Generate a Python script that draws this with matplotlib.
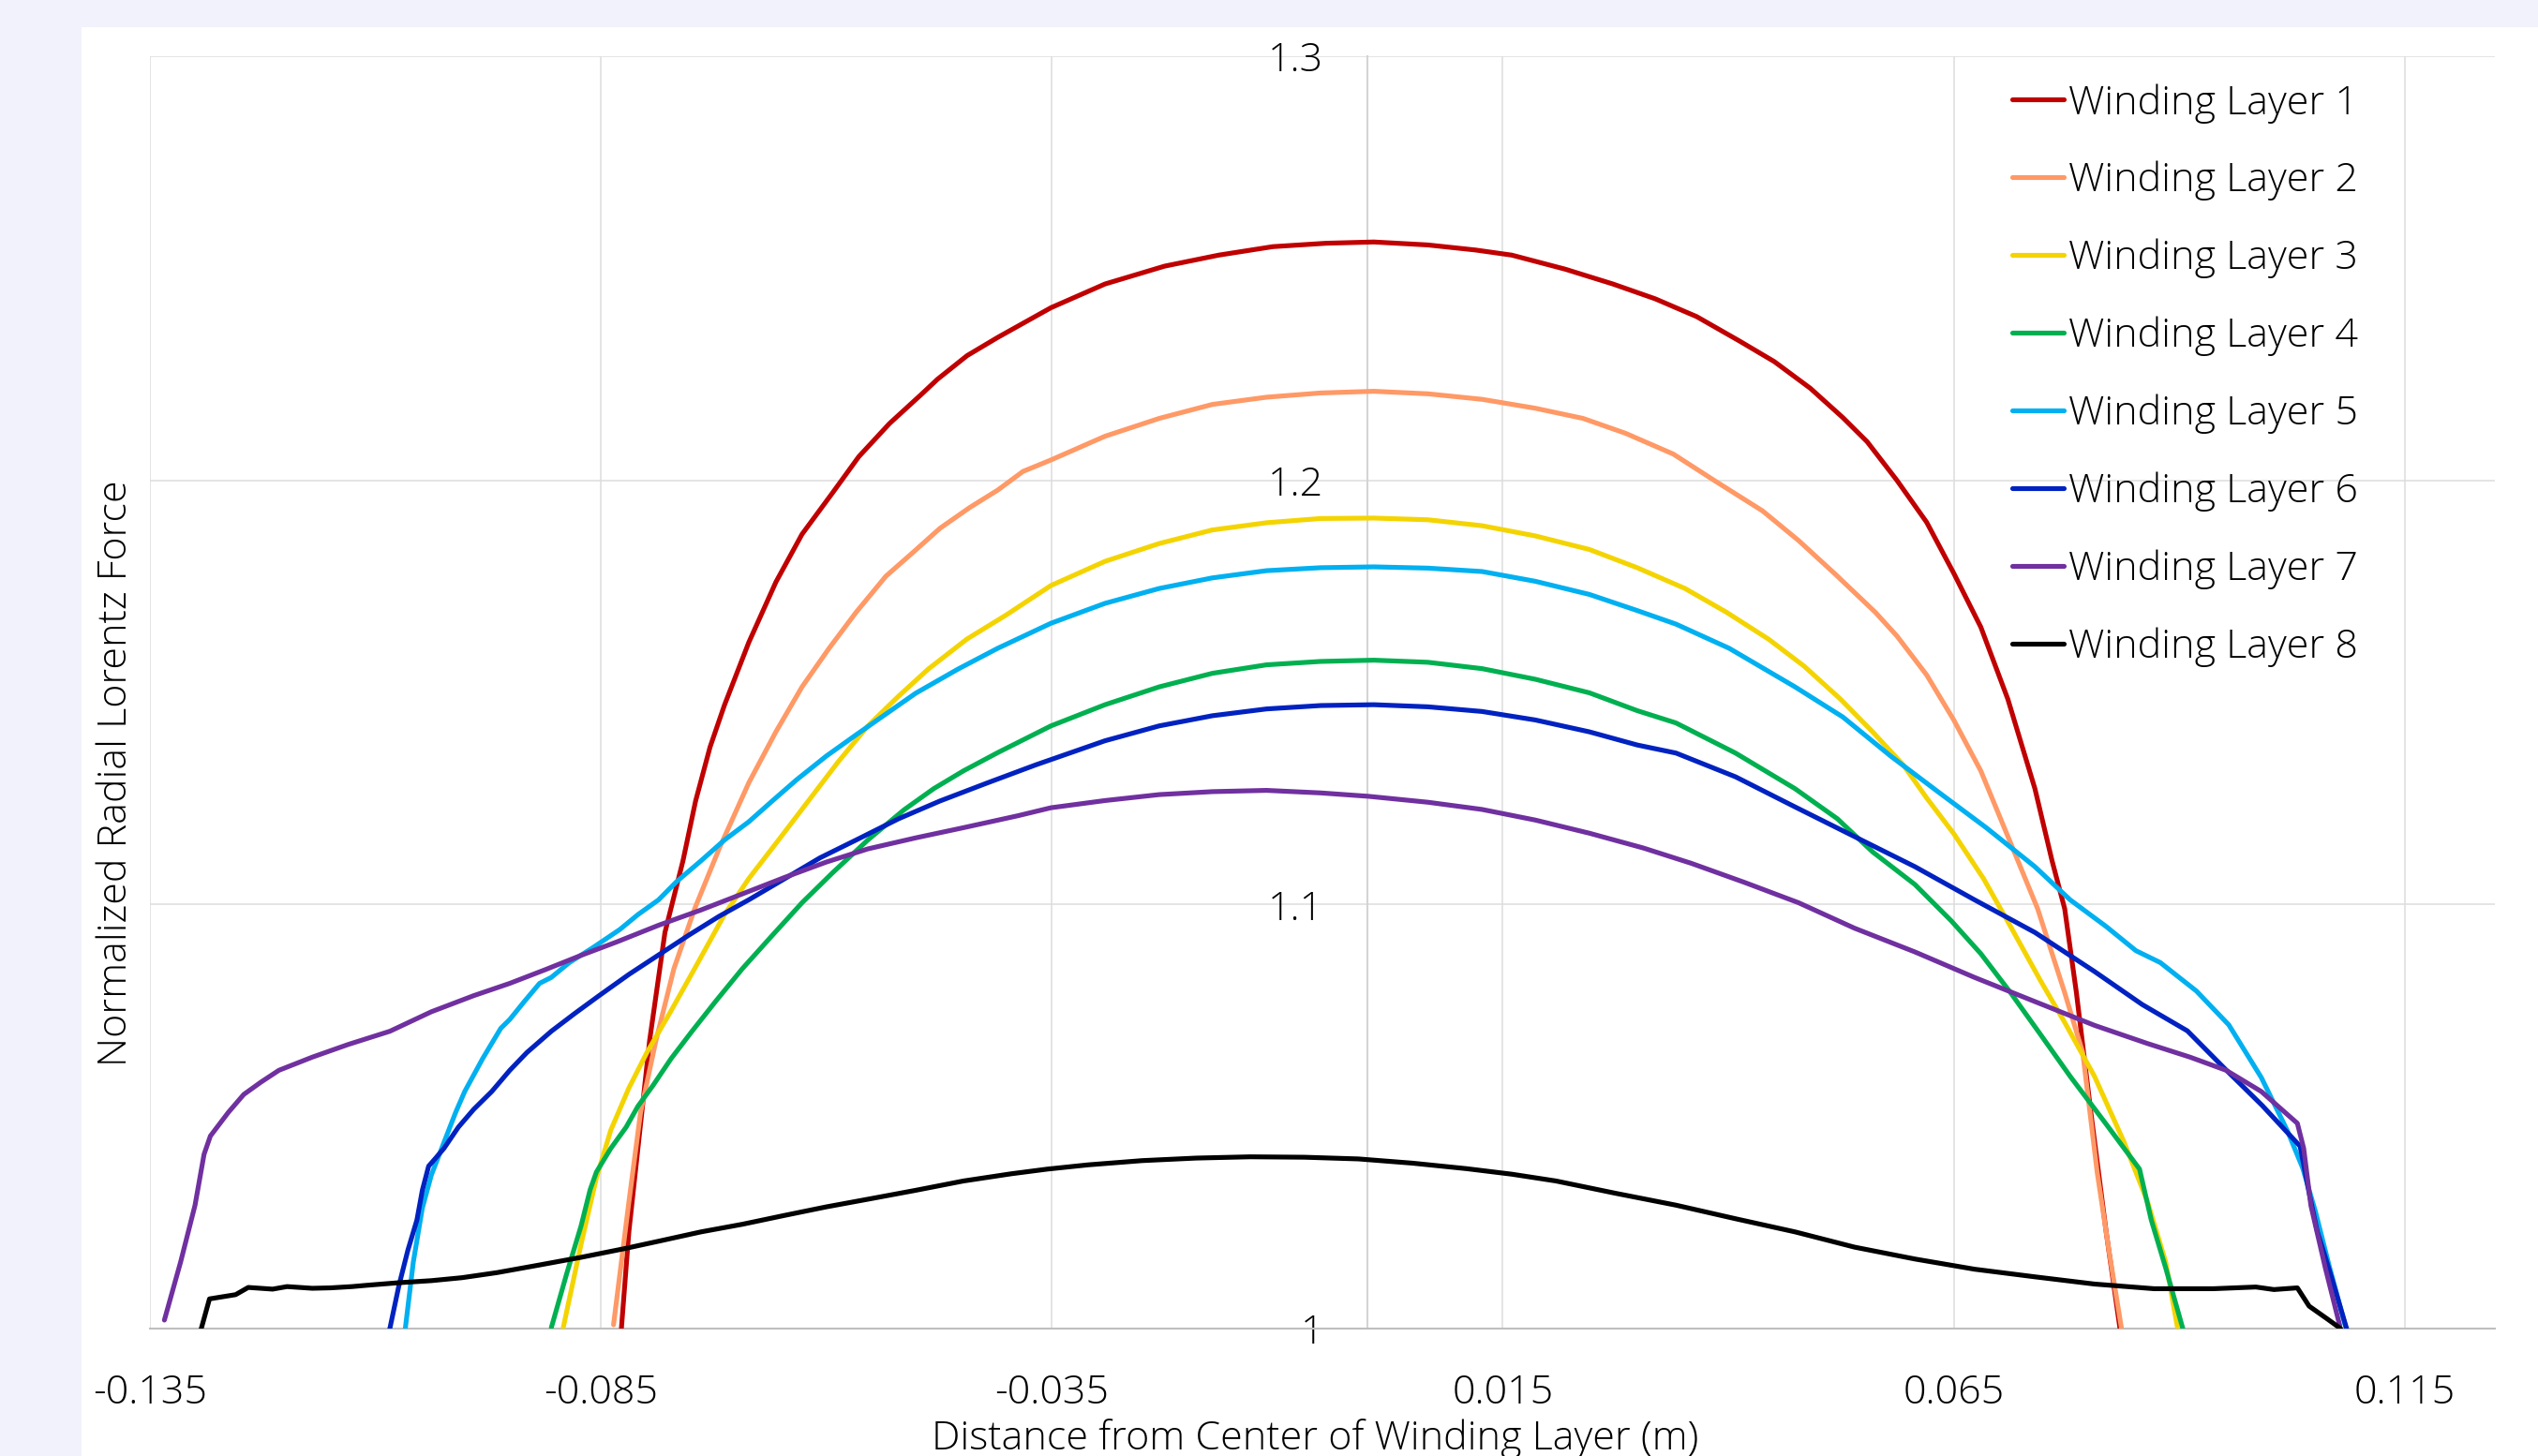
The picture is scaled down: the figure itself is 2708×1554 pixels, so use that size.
import numpy as np
import matplotlib
matplotlib.use("Agg")
import matplotlib.pyplot as plt
from matplotlib import font_manager as fm
from matplotlib.patches import Rectangle

# Data (x in m, y normalized force)

L1_X = [-0.0828, -0.0819, -0.0796, -0.0779, -0.0759, -0.0745, -0.0729, -0.0713, -0.0686, -0.0656,
        -0.0627, -0.0593, -0.0564, -0.0530, -0.0494, -0.0477, -0.0444, -0.0410, -0.0351, -0.0291,
        -0.0225, -0.0165, -0.0105, -0.0046, 0.0007, 0.0067, 0.0120, 0.0160, 0.0219, 0.0272,
        0.0319, 0.0365, 0.0412, 0.0451, 0.0491, 0.0527, 0.0554, 0.0587, 0.0620, 0.0650,
        0.0680, 0.0710, 0.0740, 0.0759, 0.0773, 0.0786, 0.0802, 0.0819, 0.0835]
L1_Y = [0.998, 1.0228, 1.0679, 1.0934, 1.1103, 1.1244, 1.1371, 1.1470, 1.1618, 1.1760,
        1.1873, 1.1971, 1.2056, 1.2134, 1.2204, 1.2238, 1.2294, 1.2337, 1.2407, 1.2463,
        1.2505, 1.2531, 1.2551, 1.2559, 1.2562, 1.2555, 1.2543, 1.2531, 1.2498, 1.2463,
        1.2428, 1.2386, 1.2329, 1.2280, 1.2217, 1.2148, 1.2091, 1.2000, 1.1901, 1.1781,
        1.1654, 1.1484, 1.1273, 1.1103, 1.0990, 1.0792, 1.0510, 1.0228, 0.999]

L2_X = [-0.0836, -0.0819, -0.0806, -0.0789, -0.0769, -0.0746, -0.0719, -0.0686, -0.0656, -0.0627,
        -0.0597, -0.0567, -0.0534, -0.0504, -0.0474, -0.0441, -0.0410, -0.0382, -0.0351, -0.0291,
        -0.0231, -0.0172, -0.0112, -0.0052, 0.0007, 0.0067, 0.0127, 0.0186, 0.0239, 0.0286,
        0.0339, 0.0385, 0.0438, 0.0478, 0.0518, 0.0563, 0.0587, 0.0620, 0.0650, 0.0680,
        0.0713, 0.0743, 0.0773, 0.0793, 0.0809, 0.0822, 0.0836]
L2_Y = [1.0009, 1.0298, 1.0510, 1.0679, 1.0849, 1.0990, 1.1131, 1.1287, 1.1407, 1.1513,
        1.1604, 1.1689, 1.1774, 1.1830, 1.1887, 1.1936, 1.1977, 1.2021, 1.2048, 1.2104,
        1.2146, 1.2179, 1.2196, 1.2206, 1.2210, 1.2204, 1.2191, 1.2170, 1.2146, 1.2111,
        1.2062, 1.1999, 1.1928, 1.1858, 1.1780, 1.1689, 1.1633, 1.1541, 1.1435, 1.1315,
        1.1145, 1.0990, 1.0792, 1.0651, 1.0369, 1.0185, 1.0]

L3_X = [-0.0894, -0.0872, -0.0855, -0.0839, -0.0819, -0.0799, -0.0772, -0.0746, -0.0713, -0.0686,
        -0.0653, -0.0620, -0.0587, -0.0554, -0.0520, -0.0487, -0.0444, -0.0401, -0.0351, -0.0291,
        -0.0231, -0.0172, -0.0112, -0.0052, 0.0007, 0.0067, 0.0127, 0.0186, 0.0246, 0.0299,
        0.0352, 0.0398, 0.0445, 0.0484, 0.0524, 0.0560, 0.0594, 0.0620, 0.0650, 0.0683,
        0.0713, 0.0746, 0.0773, 0.0806, 0.0839, 0.0865, 0.0885, 0.0900]
L3_Y = [0.998, 1.0199, 1.0355, 1.0468, 1.0567, 1.0651, 1.0750, 1.0849, 1.0976, 1.1061,
        1.1152, 1.1244, 1.1336, 1.1421, 1.1491, 1.1555, 1.1626, 1.1682, 1.1752, 1.1809,
        1.1851, 1.1883, 1.1900, 1.1910, 1.1911, 1.1907, 1.1893, 1.1869, 1.1837, 1.1794,
        1.1745, 1.1689, 1.1625, 1.1562, 1.1485, 1.1407, 1.1329, 1.1251, 1.1167, 1.1061,
        1.0948, 1.0821, 1.0722, 1.0595, 1.0439, 1.0298, 1.0157, 0.998]

L4_X = [-0.0905, -0.0888, -0.0872, -0.0862, -0.0855, -0.0839, -0.0822, -0.0809, -0.0792, -0.0772,
        -0.0749, -0.0723, -0.0693, -0.0660, -0.0627, -0.0593, -0.0554, -0.0514, -0.0481, -0.0448,
        -0.0410, -0.0351, -0.0291, -0.0231, -0.0172, -0.0112, -0.0052, 0.0007, 0.0067, 0.0127,
        0.0186, 0.0246, 0.0299, 0.0342, 0.0408, 0.0474, 0.0521, 0.0560, 0.0607, 0.0647,
        0.0680, 0.0713, 0.0746, 0.0779, 0.0819, 0.0856, 0.0869, 0.0885, 0.0904]
L4_Y = [1.0002, 1.0129, 1.0242, 1.0327, 1.0369, 1.0425, 1.0475, 1.0524, 1.0574, 1.0637,
        1.0701, 1.0771, 1.0849, 1.0927, 1.1004, 1.1075, 1.1152, 1.1223, 1.1273, 1.1315,
        1.1358, 1.1421, 1.1471, 1.1513, 1.1545, 1.1565, 1.1573, 1.1576, 1.1571, 1.1556,
        1.1531, 1.1499, 1.1457, 1.1428, 1.1357, 1.1273, 1.1202, 1.1124, 1.1047, 1.0962,
        1.0884, 1.0792, 1.0694, 1.0595, 1.0482, 1.0376, 1.0256, 1.0143, 1.0]

L5_X = [-0.1068, -0.1058, -0.1048, -0.1038, -0.1024, -0.1011, -0.1001, -0.0981, -0.0961, -0.0951,
        -0.0935, -0.0918, -0.0905, -0.0885, -0.0859, -0.0829, -0.0809, -0.0786, -0.0766, -0.0739,
        -0.0713, -0.0686, -0.0660, -0.0633, -0.0600, -0.0567, -0.0534, -0.0501, -0.0454, -0.0410,
        -0.0351, -0.0291, -0.0231, -0.0172, -0.0112, -0.0052, 0.0007, 0.0067, 0.0127, 0.0186,
        0.0246, 0.0299, 0.0342, 0.0401, 0.0474, 0.0527, 0.0580, 0.0633, 0.0686, 0.0740,
        0.0779, 0.0819, 0.0852, 0.0879, 0.0919, 0.0955, 0.0991, 0.1020, 0.1037, 0.1051,
        0.1066, 0.1085]
L5_Y = [0.998, 1.0157, 1.0284, 1.0362, 1.0439, 1.0510, 1.0559, 1.0637, 1.0708, 1.0729,
        1.0771, 1.0814, 1.0828, 1.0863, 1.0898, 1.0941, 1.0976, 1.1011, 1.1054, 1.1103,
        1.1152, 1.1195, 1.1244, 1.1294, 1.1350, 1.1400, 1.1449, 1.1498, 1.1555, 1.1604,
        1.1663, 1.1710, 1.1745, 1.1770, 1.1787, 1.1794, 1.1796, 1.1793, 1.1785, 1.1762,
        1.1731, 1.1693, 1.1661, 1.1604, 1.1513, 1.1442, 1.1350, 1.1265, 1.1181, 1.1089,
        1.1011, 1.0948, 1.0891, 1.0863, 1.0796, 1.0716, 1.0592, 1.0466, 1.0378, 1.0276,
        1.0150, 1.0]

L6_X = [-0.1086, -0.1074, -0.1064, -0.1054, -0.1048, -0.1041, -0.1034, -0.1024, -0.1008, -0.0991,
        -0.0971, -0.0951, -0.0932, -0.0905, -0.0879, -0.0852, -0.0819, -0.0786, -0.0753, -0.0719,
        -0.0686, -0.0646, -0.0607, -0.0567, -0.0520, -0.0474, -0.0421, -0.0368, -0.0291, -0.0231,
        -0.0172, -0.0112, -0.0052, 0.0007, 0.0067, 0.0127, 0.0186, 0.0246, 0.0299, 0.0342,
        0.0408, 0.0474, 0.0540, 0.0607, 0.0673, 0.0740, 0.0806, 0.0859, 0.0909, 0.0950,
        0.0992, 0.1034, 0.1044, 0.1053, 0.1069, 0.1087]
L6_Y = [0.998, 1.0101, 1.0185, 1.0256, 1.0326, 1.0383, 1.0400, 1.0425, 1.0475, 1.0517,
        1.0559, 1.0609, 1.0651, 1.0701, 1.0743, 1.0785, 1.0835, 1.0881, 1.0927, 1.0972,
        1.1011, 1.1061, 1.1110, 1.1152, 1.1202, 1.1244, 1.1287, 1.1329, 1.1386, 1.1421,
        1.1445, 1.1461, 1.1469, 1.1471, 1.1466, 1.1455, 1.1435, 1.1407, 1.1376, 1.1357,
        1.1301, 1.1230, 1.1160, 1.1089, 1.1011, 1.0934, 1.0842, 1.0764, 1.0702, 1.0614,
        1.0526, 1.0430, 1.0320, 1.0230, 1.0120, 0.999]

L7_X = [-0.1334, -0.1316, -0.1300, -0.1290, -0.1283, -0.1263, -0.1246, -0.1227, -0.1207, -0.1170,
        -0.1130, -0.1084, -0.1038, -0.0991, -0.0951, -0.0912, -0.0872, -0.0832, -0.0786, -0.0739,
        -0.0693, -0.0646, -0.0600, -0.0554, -0.0501, -0.0448, -0.0388, -0.0351, -0.0291, -0.0231,
        -0.0172, -0.0112, -0.0052, 0.0001, 0.0067, 0.0127, 0.0186, 0.0246, 0.0306, 0.0359,
        0.0418, 0.0478, 0.0540, 0.0607, 0.0673, 0.0740, 0.0806, 0.0865, 0.0912, 0.0952,
        0.0991, 0.1031, 0.1038, 0.1046, 0.1062, 0.1078]
L7_Y = [1.0020, 1.0157, 1.0291, 1.0411, 1.0454, 1.0510, 1.0552, 1.0581, 1.0609, 1.0640,
        1.0670, 1.0701, 1.0747, 1.0785, 1.0814, 1.0846, 1.0880, 1.0912, 1.0951, 1.0987,
        1.1025, 1.1064, 1.1100, 1.1131, 1.1157, 1.1181, 1.1209, 1.1228, 1.1245, 1.1259,
        1.1266, 1.1269, 1.1263, 1.1255, 1.1241, 1.1224, 1.1199, 1.1168, 1.1133, 1.1097,
        1.1052, 1.1004, 1.0944, 1.0888, 1.0828, 1.0771, 1.0715, 1.0672, 1.0640, 1.0609,
        1.0559, 1.0484, 1.0425, 1.0290, 1.0143, 1.0007]

L8_X = [-0.1297, -0.1284, -0.1255, -0.1241, -0.1214, -0.1198, -0.1170, -0.1150, -0.1126, -0.1110,
        -0.1075, -0.1038, -0.1004, -0.0965, -0.0918, -0.0872, -0.0825, -0.0786, -0.0739, -0.0693,
        -0.0646, -0.0600, -0.0554, -0.0501, -0.0448, -0.0395, -0.0355, -0.0310, -0.0250, -0.0190,
        -0.0130, -0.0070, -0.0010, 0.0050, 0.0110, 0.0160, 0.0209, 0.0275, 0.0342, 0.0408,
        0.0474, 0.0540, 0.0607, 0.0673, 0.0740, 0.0806, 0.0872, 0.0938, 0.0985, 0.1005,
        0.1031, 0.1044, 0.1064, 0.1079]
L8_Y = [0.997, 1.0070, 1.0080, 1.0097, 1.0093, 1.0099, 1.0095, 1.0096, 1.0099, 1.0102,
        1.0108, 1.0113, 1.0120, 1.0132, 1.0150, 1.0168, 1.0188, 1.0206, 1.0228, 1.0246,
        1.0267, 1.0287, 1.0305, 1.0326, 1.0348, 1.0365, 1.0376, 1.0386, 1.0396, 1.0402,
        1.0405, 1.0404, 1.0400, 1.0390, 1.0377, 1.0364, 1.0348, 1.0319, 1.0291, 1.0259,
        1.0228, 1.0192, 1.0164, 1.0140, 1.0122, 1.0105, 1.0094, 1.0094, 1.0098, 1.0092,
        1.0096, 1.0053, 1.0023, 1.0]

LABELS = [f"Winding Layer {i}" for i in range(1, 9)]
COLORS = ["#C00000", "#FF9966", "#F4D400", "#00B050", "#00B0F0", "#0022C0", "#7030A0", "#000000"]

X_TICKS = [-0.135, -0.085, -0.035, 0.015, 0.065, 0.115]
X_TICK_LABELS = ["-0.135", "-0.085", "-0.035", "0.015", "0.065", "0.115"]
Y_TICKS = [1.0, 1.1, 1.2, 1.3]
Y_TICK_LABELS = ["1", "1.1", "1.2", "1.3"]


def pick_family():
    # prefer a light face, close to the Segoe UI Light look of the original
    for fam in ["Open Sans", "Lato", "Noto Sans", "Roboto", "Inter"]:
        for f in fm.fontManager.ttflist:
            w = f.weight if isinstance(f.weight, int) else fm.weight_dict.get(f.weight, 400)
            if f.name == fam and w <= 300:
                return fam
    return "Open Sans"


FAMILY = pick_family()
plt.rcParams["font.family"] = [FAMILY, "DejaVu Sans"]
plt.rcParams["font.weight"] = "light"

W, H = 2708, 1554
FS = 31

fig = plt.figure(figsize=(W / 100, H / 100), dpi=100, facecolor="#F2F2FC")
fig.patches.append(Rectangle((87 / W, 0), 1, 1 - 29 / H, transform=fig.transFigure,
                             facecolor="white", edgecolor="none", zorder=-5))

ax = fig.add_axes([160 / W, 1 - 1418 / H, (2662 - 160) / W, (1418 - 60) / H])
ax.set_facecolor("white")

series = [(L1_X, L1_Y), (L2_X, L2_Y), (L3_X, L3_Y), (L4_X, L4_Y),
          (L5_X, L5_Y), (L6_X, L6_Y), (L7_X, L7_Y), (L8_X, L8_Y)]
for (xs, ys), lab, col in zip(series, LABELS, COLORS):
    ax.plot(xs, ys, color=col, lw=3.7, label=lab,
            solid_joinstyle="round", solid_capstyle="round", zorder=3)

ax.set_xlim(-0.135, 0.125)
ax.set_ylim(1.0, 1.3)
ax.set_xticks(X_TICKS)
ax.set_xticklabels(X_TICK_LABELS)
ax.set_yticks(Y_TICKS)
ax.set_yticklabels(Y_TICK_LABELS)

ax.set_axisbelow(True)
ax.grid(True, color="#DDDDDD", lw=1.1)
for s in ["top", "right"]:
    ax.spines[s].set_visible(False)
ax.spines["left"].set_position(("data", 0))
ax.spines["left"].set_color("#D4D4D4")
ax.spines["left"].set_linewidth(1.5)
ax.spines["bottom"].set_color("#BFBFBF")
ax.spines["bottom"].set_linewidth(1.5)

ax.tick_params(axis="both", length=0, labelsize=FS, colors="black")
ax.tick_params(axis="x", pad=34)
ax.tick_params(axis="y", pad=34)

fig.text(124 / W, 1 - 825 / H, "Normalized Radial Lorentz Force", rotation=90,
         ha="center", va="center", fontsize=FS)
fig.text(1403 / W, 1 - 1536 / H, "Distance from Center of Winding Layer (m)",
         ha="center", va="center", fontsize=FS)

leg = ax.legend(loc="upper left", bbox_to_anchor=((2147 - 160) / (2662 - 160), 1 - 29 / 1358),
                frameon=False, fontsize=FS, handlelength=1.28, handletextpad=0.12,
                labelspacing=0.94, borderpad=0, borderaxespad=0)

fig.savefig("out.png", dpi=100, facecolor=fig.get_facecolor())
